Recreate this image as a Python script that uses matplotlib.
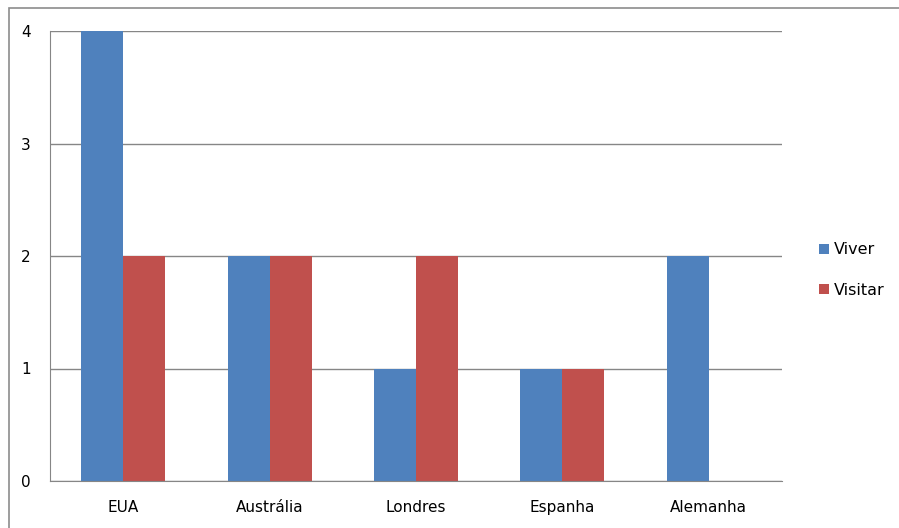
import matplotlib
matplotlib.use("Agg")
import matplotlib.pyplot as plt
import numpy as np
from matplotlib.patches import Rectangle

categories = ["EUA", "Austrália", "Londres", "Espanha", "Alemanha"]
viver = [4, 2, 1, 1, 2]
visitar = [2, 2, 2, 1, 0]
series_names = ["Viver", "Visitar"]
colors = ["#4F81BD", "#C0504D"]

fig = plt.figure(figsize=(8.99, 5.28), dpi=100)
fig.patches.append(Rectangle((8.5/899, -0.1), 1.2, (528-8.5)/528 + 0.1, transform=fig.transFigure,
                             fill=False, edgecolor="#8C8C8C", linewidth=1.2))
ax = fig.add_axes([50/899, (528-481)/528, (782-50)/899, (481-31)/528])

x = np.arange(len(categories))
w = 0.287
ax.bar(x - w/2, viver, width=w, color=colors[0], label=series_names[0], zorder=3)
ax.bar(x + w/2, visitar, width=w, color=colors[1], label=series_names[1], zorder=3)

ax.set_xlim(-0.5, len(categories) - 0.5)
ax.set_ylim(0, 4)
ax.set_yticks([0, 1, 2, 3, 4])
ax.set_xticks(x)
ax.set_xticklabels(categories)
ax.yaxis.grid(True, color="#868686", linewidth=1.0, zorder=0)
ax.set_axisbelow(True)
for s in ["top", "right"]:
    ax.spines[s].set_visible(False)
for s in ["left", "bottom"]:
    ax.spines[s].set_color("#868686")
    ax.spines[s].set_zorder(4)
ax.tick_params(axis="both", length=0, labelsize=11, colors="black")
ax.tick_params(axis="x", pad=14)
ax.tick_params(axis="y", pad=14)

leg = fig.legend(loc="center left", bbox_to_anchor=(805/899, (528-270)/528), frameon=False,
                 fontsize=11.5, handlelength=0.6, handleheight=0.6, handletextpad=0.3,
                 labelspacing=1.6)

fig.savefig("out.png", dpi=100)
